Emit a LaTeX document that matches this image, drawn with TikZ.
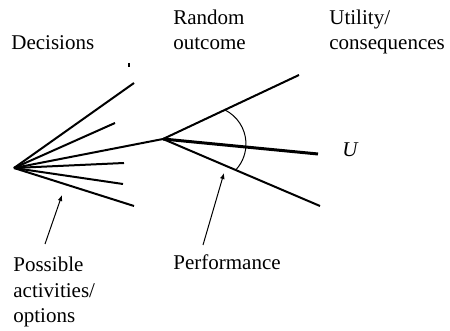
\documentclass[tikz,border=0pt]{standalone}
\usepackage{fontspec}
\setmainfont{Liberation Serif}
\usetikzlibrary{arrows.meta, calc}
\tikzset{
  ramaLinea/.style={line width=1pt, black},
  ramaGruesa/.style={line width=1.5pt, black},
  arcoFino/.style={line width=0.5pt, black},
  flecha/.style={-{Latex[length=3pt, width=2.4pt]}, line width=0.5pt, black},
  etiqueta/.style={anchor=base west, inner sep=0pt, align=left,
    font=\fontsize{10.5}{12.5}\selectfont},
}
\begin{document}
\begin{tikzpicture}[x=0.5pt, y=-0.5pt]
  \useasboundingbox (0,0) rectangle (450,331);
  % decision and chance points
  \coordinate (dec) at (14,168);
  \coordinate (azar) at (163,139);
  % options fanning out of the decision
  \foreach \x/\y [count=\i] in {134/83, 115/123, 124/163, 123/184, 134/206}
    \coordinate (opt\i) at (\x,\y);
  \foreach \i in {1,...,5}
    \draw[ramaLinea] (dec) -- (opt\i);
  \draw[ramaLinea] (dec) -- (azar);
  % outcomes
  \coordinate (res1) at (299,75);
  \coordinate (res2) at (318,154);
  \coordinate (res3) at (320,206);
  \draw[ramaLinea] (azar) -- (res1);
  \draw[ramaGruesa] (azar) -- (res2);
  \draw[ramaLinea] (azar) -- (res3);
  \draw[arcoFino] (225,110) arc[start angle=-63.4, end angle=42.9, radius=38];
  % stray tick
  \draw[line width=0.6pt] (129,63) -- (129,67);
  % labels (base = last line)
  \node[etiqueta] (decisiones) at (11,50) {Decisions};
  \node[etiqueta] (aleatorio) at (173,50) {Random\\outcome};
  \node[etiqueta] (utilidad) at (329,50) {Utility/\\consequences};
  \node[etiqueta] (opciones) at (13,322) {Possible\\activities/\\options};
  \node[etiqueta] (desempeno) at (173,270) {Performance};
  \node[etiqueta, font=\fontsize{10.5}{12.5}\selectfont\itshape] (util) at (342,157) {U};
  % pointers
  \coordinate (colaOpc) at (45,244);
  \coordinate (puntaOpc) at (62,195);
  \coordinate (colaDes) at (203,245);
  \coordinate (puntaDes) at (224,173);
  \draw[flecha] (colaOpc) -- (puntaOpc);
  \draw[flecha] (colaDes) -- (puntaDes);
\end{tikzpicture}
\end{document}
